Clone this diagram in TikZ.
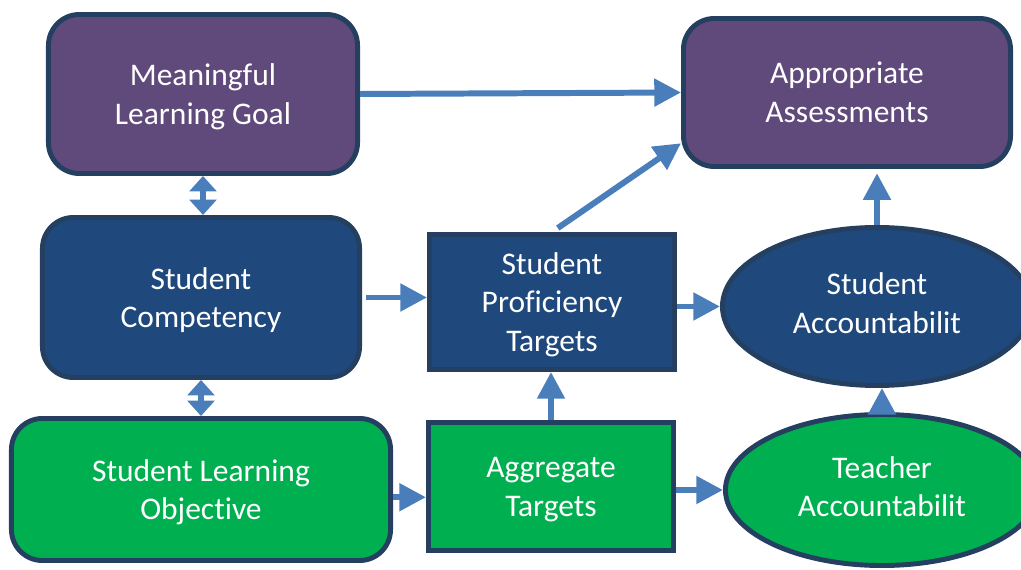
\documentclass[tikz,border=0pt]{standalone}
\usepackage{fontspec}
\setmainfont{Carlito}[Ligatures=NoCommon]
\usetikzlibrary{arrows.meta,shapes.geometric}

\definecolor{goalpurple}{HTML}{604A7B}
\definecolor{compblue}{HTML}{1F497D}
\definecolor{objgreen}{HTML}{00B050}
\definecolor{edgenavy}{HTML}{243F60}
\definecolor{flowblue}{HTML}{4A7EBB}

\begin{document}
\begin{tikzpicture}[x=0.025cm, y=-0.025cm,
  box/.style={draw=edgenavy, line width=3.5pt, text=white, align=center, inner sep=0pt,
    text depth=0pt, font=\fontsize{22.4}{27.6}\selectfont},
  rbox/.style={box, rounded corners=22pt},
  oval/.style={box, ellipse, text depth=5pt},
  flow/.style={draw=flowblue, line width=4.25pt, -{Triangle[length=19pt,width=19pt]}},
  both/.style={draw=flowblue, line width=4pt,
    {Triangle[length=11pt,width=19pt]}-{Triangle[length=11pt,width=19pt]}}]

\useasboundingbox (0, 0) rectangle (1021, 570);
\clip (0, 0) rectangle (1021, 570);

\node[rbox, fill=goalpurple, minimum width=7.725cm, minimum height=3.975cm] (goal) at (203, 94) {Meaningful\\Learning Goal};
\node[rbox, fill=goalpurple, minimum width=8.175cm, minimum height=3.7cm] (assess) at (847, 92.5) {Appropriate\\Assessments};
\node[rbox, fill=compblue, minimum width=7.925cm, minimum height=4cm] (comp) at (201, 297.5) {Student\\Competency};
\node[box, fill=compblue, minimum width=6.125cm, minimum height=3.375cm] (prof) at (552, 302) {Student\\Proficiency\\Targets};
\node[oval, fill=compblue, minimum width=7.725cm, minimum height=3.95cm] (stacc) at (877, 306.5) {Student\\Accountabilit};
\node[rbox, fill=objgreen, minimum width=9.475cm, minimum height=3.55cm] (slo) at (201, 489.5) {Student Learning\\Objective};
\node[box, fill=objgreen, minimum width=6.125cm, minimum height=3.2cm] (agg) at (551, 486.5) {Aggregate\\Targets};
\node[oval, fill=objgreen, minimum width=7.825cm, minimum height=3.775cm] (teach) at (882, 490) {Teacher\\Accountabilit};

\draw[flow] (goal.east) -- (assess.west);
\draw[flow, shorten <=5pt] (prof.north) -- (assess.197);
\draw[flow, shorten <=3pt] (comp.east) -- (comp.east -| prof.west);
\draw[flow] (prof.east |- stacc.west) -- (stacc.west);
\draw[flow] (agg.north) -- (agg.north |- prof.south);
\draw[flow] ([yshift=-5.5pt]slo.east) -- ([yshift=-5.5pt]slo.east -| agg.west);
\draw[flow] (agg.east |- teach.west) -- (teach.west);
\draw[flow] (teach.north) -- (teach.north |- stacc.south);
\draw[flow, shorten >=3pt] (stacc.north) -- (stacc.north |- assess.south);

\draw[both] (goal.south) -- (goal.south |- comp.north);
\draw[both] (comp.south) -- (comp.south |- slo.north);

\end{tikzpicture}
\end{document}
